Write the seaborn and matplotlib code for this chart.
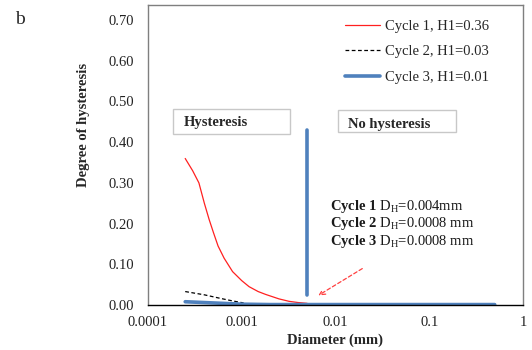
import matplotlib
matplotlib.use("Agg")
import matplotlib.pyplot as plt
from matplotlib.patches import Rectangle
import seaborn as sns

# ---- data ----
c1_x = [0.00025, 0.0003, 0.00035, 0.0004, 0.00045, 0.0005, 0.00056, 0.00065, 0.0008,
        0.001, 0.0012, 0.0015, 0.0018, 0.0025, 0.0032, 0.004, 0.005]
c1_y = [0.36, 0.33, 0.30, 0.25, 0.21, 0.178, 0.145, 0.115, 0.082,
        0.06, 0.045, 0.033, 0.026, 0.015, 0.009, 0.006, 0.004]
c2_x = [0.00025, 0.0004, 0.0006, 0.0008, 0.00105]
c2_y = [0.033, 0.025, 0.016, 0.010, 0.005]
c3_x = [0.00025, 0.0005, 0.001, 0.002, 0.005, 0.01, 0.1, 0.5]
c3_y = [0.008, 0.005, 0.002, 0.001, 0.001, 0.001, 0.001, 0.001]
dh_x = [0.005, 0.005]
dh_y = [0.025, 0.43]
labels = ["Cycle 1, H1=0.36", "Cycle 2, H1=0.03", "Cycle 3, H1=0.01"]
x_ticks = [0.0001, 0.001, 0.01, 0.1, 1]
x_ticklabels = ["0.0001", "0.001", "0.01", "0.1", "1"]
y_ticks = [0.0, 0.1, 0.2, 0.3, 0.4, 0.5, 0.6, 0.7]
notes = ["0.004mm", "0.0008 mm", "0.0008 mm"]

sns.set_style("white")
plt.rcParams['font.family'] = ['Liberation Serif', 'DejaVu Serif']
plt.rcParams['mathtext.fontset'] = 'custom'
plt.rcParams['mathtext.rm'] = 'Liberation Serif'
plt.rcParams['mathtext.bf'] = 'Liberation Serif:bold'
plt.rcParams['mathtext.it'] = 'Liberation Serif:italic'

fig = plt.figure(figsize=(5.32, 3.5), dpi=100)
ax = fig.add_axes([0.278, 0.1286, 0.705, 0.857])

blue = "#4F81BD"
sns.lineplot(x=c1_x, y=c1_y, ax=ax, color="#FF2020", lw=0.9, label=labels[0])
sns.lineplot(x=c2_x, y=c2_y, ax=ax, color="black", lw=0.9, linestyle=(0, (3, 2)), label=labels[1])
sns.lineplot(x=c3_x, y=c3_y, ax=ax, color=blue, lw=2.6, label=labels[2])
sns.lineplot(x=dh_x, y=dh_y, ax=ax, color=blue, lw=2.6, orient="y", estimator=None, sort=False)

ax.set_xscale("log")
ax.set_xlim(0.0001, 1)
ax.set_ylim(0, 0.737)
ax.set_xticks(x_ticks)
ax.set_xticklabels(x_ticklabels)
ax.set_yticks(y_ticks)
ax.set_yticklabels([f"{v:.2f}" for v in y_ticks])
ax.minorticks_off()
ax.tick_params(axis="x", direction="in", length=4, width=0.8, color="#555555", labelsize=10.5, pad=8)
ax.tick_params(axis="y", length=0, labelsize=10.5, pad=10, labelcolor="#222222")
ax.tick_params(axis="x", labelcolor="#222222")

for s in ["top", "right", "left"]:
    ax.spines[s].set_color("#7f7f7f")
    ax.spines[s].set_linewidth(1.0)
ax.spines["bottom"].set_color("black")
ax.spines["bottom"].set_linewidth(1.0)

ax.set_xlabel("Diameter (mm)", fontsize=10.5, fontweight="bold", labelpad=3)
ax.set_ylabel("Degree of hysteresis", fontsize=10.5, fontweight="bold")
ax.yaxis.set_label_coords(-0.155, 0.6)

leg = ax.legend(loc="upper right", frameon=False, fontsize=10.5, handlelength=2.4,
                handletextpad=0.3, labelspacing=0.85, borderaxespad=0.6,
                bbox_to_anchor=(0.948, 1.0))

for (x0, x1, y0, y1) in [(0.0667, 0.379, 0.57, 0.653), (0.507, 0.821, 0.577, 0.65)]:
    ax.add_patch(Rectangle((x0, y0), x1 - x0, y1 - y0, transform=ax.transAxes,
                           fc="white", ec="#c8c8c8", lw=1.0, zorder=4))
ax.text(0.096, 0.607, "Hysteresis", fontsize=10.5, fontweight="bold", ha="left", va="center",
        transform=ax.transAxes, zorder=5)
ax.text(0.533, 0.603, "No hysteresis", fontsize=10.5, fontweight="bold", ha="left", va="center",
        transform=ax.transAxes, zorder=5)

for i, n in enumerate(notes):
    ax.text(0.00885, 0.241 - i * 0.042, r"$\mathbf{Cycle\ %d}$ D$_\mathrm{H}$=%s" % (i + 1, n),
            fontsize=10.5, ha="left", va="center", color="#1a1a1a")

ax.annotate("", xy=(0.0062, 0.02), xytext=(0.0205, 0.093),
            arrowprops=dict(arrowstyle="->", color="#FF4040", lw=0.9, linestyle=(0, (3, 2))))

fig.text(0.028, 0.945, "b", fontsize=14, ha="left", va="center")

fig.savefig("out.png", dpi=100)
